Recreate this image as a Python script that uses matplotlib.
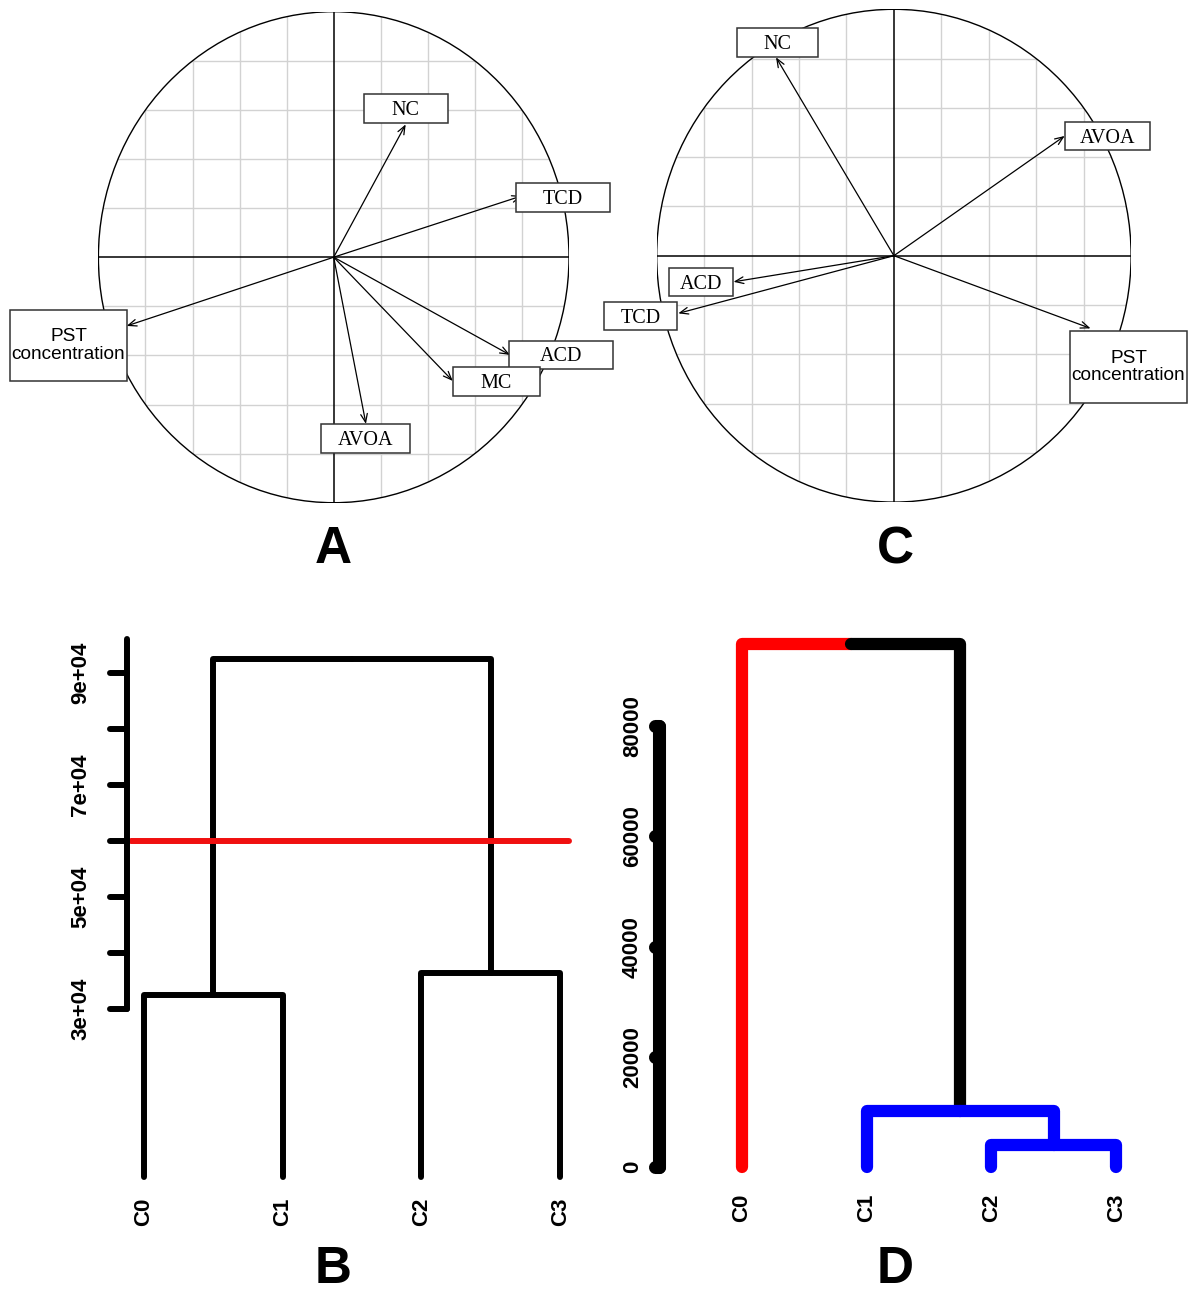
import matplotlib
matplotlib.use("Agg")
import matplotlib.pyplot as plt
import matplotlib.transforms as mtransforms
from matplotlib.patches import Ellipse, Rectangle

plt.rcParams["font.family"] = ["Liberation Sans", "DejaVu Sans"]

# --- correlation circle A: variable coordinates on dims 1/2 ---
a_names = ["NC", "TCD", "PST\nconcentration", "ACD", "MC", "AVOA"]
a_dim1 = [0.306, 0.80, -0.880, 0.749, 0.506, 0.137]
a_dim2 = [0.541, 0.25, -0.280, -0.398, -0.504, -0.679]

# --- correlation circle C ---
c_names = ["NC", "AVOA", "ACD", "TCD", "PST\nconcentration"]
c_dim1 = [-0.497, 0.720, -0.676, -0.909, 0.829]
c_dim2 = [0.805, 0.486, -0.106, -0.234, -0.295]

# --- dendrogram B: merges as (left node, right node, height) ---
b_leaves = ["C0", "C1", "C2", "C3"]
b_merges = [(0, 1, 32500), (2, 3, 36400), (4, 5, 92500)]
b_cut = 60000
b_ticks = [30000, 40000, 50000, 60000, 70000, 80000, 90000]
b_tick_labels = ["3e+04", "", "5e+04", "", "7e+04", "", "9e+04"]

# --- dendrogram D ---
d_leaves = ["C0", "C1", "C2", "C3"]
d_merges = [(2, 3, 4000), (1, 4, 10200), (0, 5, 95000)]
d_ticks = [0, 20000, 40000, 60000, 80000]
d_tick_labels = ["0", "20000", "40000", "60000", "80000"]

# label boxes: centre x, centre y, width, height (axis units)
a_boxes = {
    "NC": (0.307, 0.606, 0.357, 0.118),
    "TCD": (0.975, 0.243, 0.400, 0.118),
    "PST\nconcentration": (-1.127, -0.360, 0.497, 0.289),
    "ACD": (0.966, -0.398, 0.442, 0.114),
    "MC": (0.692, -0.506, 0.370, 0.118),
    "AVOA": (0.135, -0.738, 0.378, 0.118),
}
c_boxes = {
    "NC": (-0.491, 0.865, 0.341, 0.118),
    "AVOA": (0.900, 0.486, 0.358, 0.114),
    "ACD": (-0.813, -0.107, 0.270, 0.114),
    "TCD": (-1.068, -0.245, 0.308, 0.114),
    "PST\nconcentration": (0.989, -0.452, 0.493, 0.292),
}
d_edge_colors = {0: "red", 5: "black", 1: "blue", 4: "blue", 2: "blue", 3: "blue"}

W, H = 1199, 1294
fig = plt.figure(figsize=(W / 100, H / 100), dpi=100)


def px_axes(x0, y0, x1, y1):
    return fig.add_axes([x0 / W, 1 - y1 / H, (x1 - x0) / W, (y1 - y0) / H])


def corr_circle(ax, names, xs, ys, boxes):
    ax.set_xlim(-1, 1)
    ax.set_ylim(-1, 1)
    ax.axis("off")
    circle = Ellipse((0, 0), 2, 2, fill=False, ec="black", lw=1.0, zorder=3)
    ax.add_patch(circle)
    for g in [-0.8, -0.6, -0.4, -0.2, 0.2, 0.4, 0.6, 0.8]:
        for xx, yy in (([g, g], [-1, 1]), ([-1, 1], [g, g])):
            ln, = ax.plot(xx, yy, color="#d2d2d2", lw=1.0, zorder=1)
            ln.set_clip_path(circle)
    ax.plot([-1, 1], [0, 0], color="black", lw=1.1, zorder=2)
    ax.plot([0, 0], [-1, 1], color="black", lw=1.1, zorder=2)
    for name, x, y in zip(names, xs, ys):
        ax.annotate("", xy=(x, y), xytext=(0, 0), annotation_clip=False,
                    arrowprops=dict(arrowstyle="->,head_length=0.5,head_width=0.2",
                                    color="black", lw=0.9, shrinkA=0, shrinkB=0,
                                    mutation_scale=12), zorder=4)
        bx, by, bw, bh = boxes[name]
        ax.add_patch(Rectangle((bx - bw / 2, by - bh / 2), bw, bh, fc="white",
                               ec="#333333", lw=1.1, clip_on=False, zorder=5))
        if "\n" in name:
            ax.text(bx, by, name, ha="center", va="center", fontsize=13.7,
                    linespacing=1.05, zorder=6, clip_on=False)
        else:
            ax.annotate(name, xy=(bx, by), xytext=(0, -1.5), textcoords="offset points",
                        ha="center", va="center", fontsize=14.5,
                        family="Liberation Serif", zorder=6, annotation_clip=False)


def dendrogram(ax, leaves, merges, lw, colors=None):
    n = len(leaves)
    xpos = [float(i + 1) for i in range(n)]
    height = [0.0] * n
    for l, r, h in merges:
        xpos.append((xpos[l] + xpos[r]) / 2)
        height.append(h)

    # top-down, so child branches sit over their parent's stub
    def draw(node):
        if node < n:
            return
        l, r, _ = merges[node - n]
        for child in (l, r):
            col = colors.get(child, "black") if colors else "black"
            ax.plot([xpos[node], xpos[child], xpos[child]],
                    [height[node], height[node], height[child]],
                    color=col, lw=lw, solid_capstyle="round",
                    solid_joinstyle="round", clip_on=False)
            draw(child)

    draw(n + len(merges) - 1)
    return xpos[:n]


def value_axis(ax, ticks, labels, top, lw, tick_px, label_px):
    trans = mtransforms.blended_transform_factory(ax.transAxes, ax.transData)
    width_px = ax.get_window_extent().width
    style = dict(color="black", lw=lw, solid_capstyle="round", transform=trans, clip_on=False)
    ax.plot([0, 0], [ticks[0], top], **style)
    for v, lab in zip(ticks, labels):
        ax.plot([-tick_px / width_px, 0], [v, v], **style)
        if lab:
            ax.text(-label_px / width_px, v, lab, transform=trans, rotation=90,
                    ha="center", va="center", fontsize=16, fontweight="bold")


def leaf_labels(ax, xs, names, offset):
    for x, name in zip(xs, names):
        ax.annotate(name, xy=(x, 0), xytext=(0, -offset), textcoords="offset points",
                    rotation=90, ha="center", va="top", fontsize=16,
                    fontweight="bold", annotation_clip=False)


# A
ax_a = px_axes(98.4, 11.7, 569.0, 502.7)
corr_circle(ax_a, a_names, a_dim1, a_dim2, a_boxes)

# C
ax_c = px_axes(656.7, 9.3, 1131.1, 502.1)
corr_circle(ax_c, c_names, c_dim1, c_dim2, c_boxes)

# B
ax_b = px_axes(127, 633.8, 629.5, 1177)
ax_b.set_xlim(0.877, 4.5)
ax_b.set_ylim(0, 97000)
ax_b.axis("off")
bx = dendrogram(ax_b, b_leaves, b_merges, lw=4.3)
ax_b.plot([0.906, 4.064], [b_cut, b_cut], color="#f01010", lw=4.3,
          solid_capstyle="round", clip_on=False)
value_axis(ax_b, b_ticks, b_tick_labels, 96000, lw=4.3, tick_px=17, label_px=46.5)
leaf_labels(ax_b, bx, b_leaves, 15)

# D
ax_d = px_axes(659, 632.5, 1178.5, 1167)
ax_d.set_xlim(0.334, 4.5)
ax_d.set_ylim(0, 97000)
ax_d.axis("off")
dx = dendrogram(ax_d, d_leaves, d_merges, lw=8.8, colors=d_edge_colors)
value_axis(ax_d, d_ticks, d_tick_labels, d_ticks[-1], lw=9.4, tick_px=4, label_px=26.5)
leaf_labels(ax_d, dx, d_leaves, 19)

# panel letters
for letter, x, y in [("A", 333, 563), ("C", 895, 563), ("B", 333, 1283), ("D", 895, 1283)]:
    fig.text(x / W, 1 - y / H, letter, ha="center", va="baseline",
             fontsize=37, fontweight="bold")

fig.savefig("out.png", dpi=100)
